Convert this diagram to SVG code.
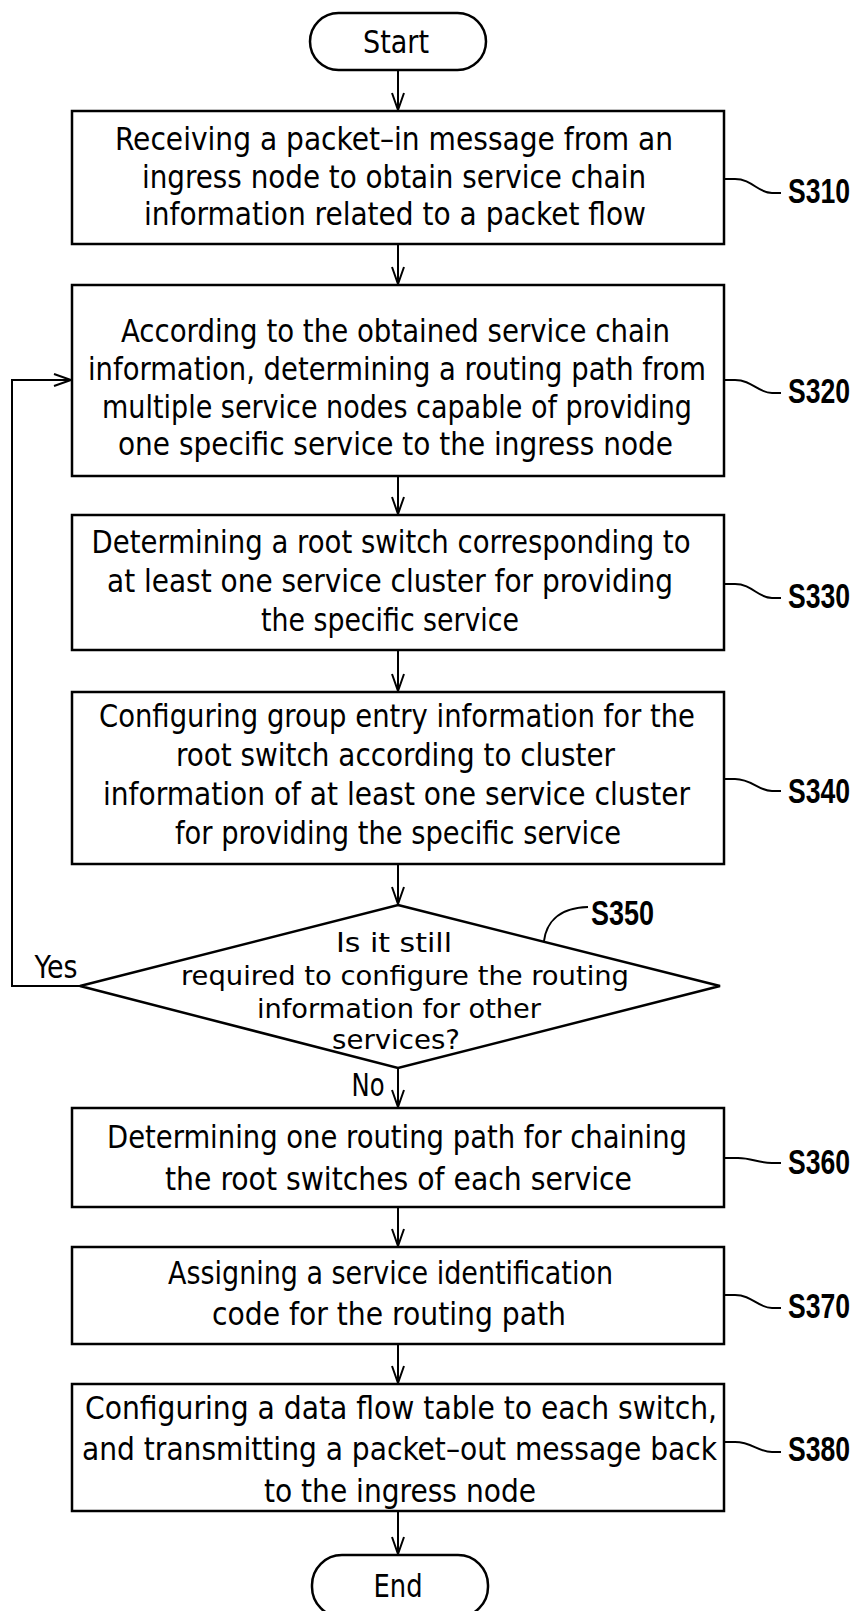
<svg xmlns="http://www.w3.org/2000/svg" width="857" height="1611" viewBox="0 0 857 1611">
<style>
.box{fill:#fff;stroke:#000;stroke-width:2.5}
.ln{fill:none;stroke:#000;stroke-width:2}
.t{font-family:"Liberation Sans Narrow","DejaVu Sans Condensed","Liberation Sans",sans-serif;font-size:32px;fill:#000;text-anchor:middle}
.d{font-size:27px}
.lb{font-family:"Liberation Sans",Arial,sans-serif;font-size:27px;font-weight:bold;fill:#000}
</style>
<defs>
<marker id="ah" markerUnits="userSpaceOnUse" markerWidth="20" markerHeight="20" refX="0" refY="0" orient="auto" overflow="visible">
<path d="M-17,-6 L0,0 L-17,6" fill="none" stroke="#000" stroke-width="2"/>
</marker>
</defs>
<rect width="857" height="1611" fill="#fff"/>
<g id="connectors">
<line class="ln" x1="398" y1="70" x2="398" y2="110" marker-end="url(#ah)"/>
<line class="ln" x1="398" y1="244" x2="398" y2="284" marker-end="url(#ah)"/>
<line class="ln" x1="398" y1="476" x2="398" y2="514" marker-end="url(#ah)"/>
<line class="ln" x1="398" y1="650" x2="398" y2="691" marker-end="url(#ah)"/>
<line class="ln" x1="398" y1="864" x2="398" y2="904" marker-end="url(#ah)"/>
<line class="ln" x1="398" y1="1068" x2="398" y2="1107" marker-end="url(#ah)"/>
<line class="ln" x1="398" y1="1207" x2="398" y2="1246" marker-end="url(#ah)"/>
<line class="ln" x1="398" y1="1344" x2="398" y2="1383" marker-end="url(#ah)"/>
<line class="ln" x1="398" y1="1511" x2="398" y2="1554" marker-end="url(#ah)"/>
<polyline class="ln" points="80,986 12,986 12,380 71,380" marker-end="url(#ah)"/>
<text class="t" x="56" y="978" textLength="43" lengthAdjust="spacingAndGlyphs">Yes</text>
<text class="t" x="368" y="1096" textLength="33" lengthAdjust="spacingAndGlyphs">No</text>
</g>
<g id="start">
<rect class="box" x="310" y="13" width="176" height="57" rx="28.5"/>
<text class="t" x="396" y="53" textLength="66" lengthAdjust="spacingAndGlyphs">Start</text>
</g>
<g id="s310">
<rect class="box" x="72" y="111" width="652" height="133"/>
<text class="t" x="394" y="150" textLength="558" lengthAdjust="spacingAndGlyphs">Receiving a packet–in message from an</text>
<text class="t" x="394" y="187.5" textLength="504" lengthAdjust="spacingAndGlyphs">ingress node to obtain service chain</text>
<text class="t" x="395" y="225" textLength="502" lengthAdjust="spacingAndGlyphs">information related to a packet flow</text>
<path class="ln" d="M724,179 H735 C752,179 758,193 772,193 H781"/>
<text class="lb" transform="translate(788,203) scale(1,1.3)" textLength="62" lengthAdjust="spacingAndGlyphs">S310</text>
</g>
<g id="s320">
<rect class="box" x="72" y="285" width="652" height="191"/>
<text class="t" x="395.5" y="342" textLength="549" lengthAdjust="spacingAndGlyphs">According to the obtained service chain</text>
<text class="t" x="397" y="380" textLength="618" lengthAdjust="spacingAndGlyphs">information, determining a routing path from</text>
<text class="t" x="397" y="418" textLength="590" lengthAdjust="spacingAndGlyphs">multiple service nodes capable of providing</text>
<text class="t" x="395.5" y="455" textLength="555" lengthAdjust="spacingAndGlyphs">one specific service to the ingress node</text>
<path class="ln" d="M724,380 H735 C752,380 758,393 772,393 H781"/>
<text class="lb" transform="translate(788,403) scale(1,1.3)" textLength="62" lengthAdjust="spacingAndGlyphs">S320</text>
</g>
<g id="s330">
<rect class="box" x="72" y="515" width="652" height="135"/>
<text class="t" x="391" y="553" textLength="599" lengthAdjust="spacingAndGlyphs">Determining a root switch corresponding to</text>
<text class="t" x="390" y="592" textLength="566" lengthAdjust="spacingAndGlyphs">at least one service cluster for providing</text>
<text class="t" x="390" y="631" textLength="258" lengthAdjust="spacingAndGlyphs">the specific service</text>
<path class="ln" d="M724,584 H735 C752,584 758,598 772,598 H781"/>
<text class="lb" transform="translate(788,608) scale(1,1.3)" textLength="62" lengthAdjust="spacingAndGlyphs">S330</text>
</g>
<g id="s340">
<rect class="box" x="72" y="692" width="652" height="172"/>
<text class="t" x="397" y="727" textLength="596" lengthAdjust="spacingAndGlyphs">Configuring group entry information for the</text>
<text class="t" x="395.5" y="766" textLength="439" lengthAdjust="spacingAndGlyphs">root switch according to cluster</text>
<text class="t" x="396.5" y="805" textLength="587" lengthAdjust="spacingAndGlyphs">information of at least one service cluster</text>
<text class="t" x="398" y="844" textLength="446" lengthAdjust="spacingAndGlyphs">for providing the specific service</text>
<path class="ln" d="M724,779 H735 C752,779 758,791 772,791 H781"/>
<text class="lb" transform="translate(788,803) scale(1,1.3)" textLength="62" lengthAdjust="spacingAndGlyphs">S340</text>
</g>
<g id="s350">
<polygon class="box" points="398,905 720,986 398,1068 80,986"/>
<text class="t d" x="394" y="952" textLength="116" lengthAdjust="spacingAndGlyphs">Is it still</text>
<text class="t d" x="405" y="985" textLength="448" lengthAdjust="spacingAndGlyphs">required to configure the routing</text>
<text class="t d" x="399" y="1018" textLength="284" lengthAdjust="spacingAndGlyphs">information for other</text>
<text class="t d" x="396" y="1049" textLength="128" lengthAdjust="spacingAndGlyphs">services?</text>
<path class="ln" d="M544,941 C546,925 556,908 588,907"/>
<text class="lb" transform="translate(591,925) scale(1,1.3)" textLength="63" lengthAdjust="spacingAndGlyphs">S350</text>
</g>
<g id="s360">
<rect class="box" x="72" y="1108" width="652" height="99"/>
<text class="t" x="397" y="1148" textLength="580" lengthAdjust="spacingAndGlyphs">Determining one routing path for chaining</text>
<text class="t" x="398.5" y="1190" textLength="467" lengthAdjust="spacingAndGlyphs">the root switches of each service</text>
<path class="ln" d="M724,1158 H738 C752,1158 758,1163 772,1163 H781"/>
<text class="lb" transform="translate(788,1174) scale(1,1.3)" textLength="62" lengthAdjust="spacingAndGlyphs">S360</text>
</g>
<g id="s370">
<rect class="box" x="72" y="1247" width="652" height="97"/>
<text class="t" x="390.5" y="1284" textLength="445" lengthAdjust="spacingAndGlyphs">Assigning a service identification</text>
<text class="t" x="389" y="1325" textLength="354" lengthAdjust="spacingAndGlyphs">code for the routing path</text>
<path class="ln" d="M724,1295 H735 C752,1295 758,1308 772,1308 H781"/>
<text class="lb" transform="translate(788,1318) scale(1,1.3)" textLength="62" lengthAdjust="spacingAndGlyphs">S370</text>
</g>
<g id="s380">
<rect class="box" x="72" y="1384" width="652" height="127"/>
<text class="t" x="401" y="1419" textLength="632" lengthAdjust="spacingAndGlyphs">Configuring a data flow table to each switch,</text>
<text class="t" x="399.5" y="1460" textLength="635" lengthAdjust="spacingAndGlyphs">and transmitting a packet–out message back</text>
<text class="t" x="400" y="1502" textLength="272" lengthAdjust="spacingAndGlyphs">to the ingress node</text>
<path class="ln" d="M724,1442 H735 C752,1442 758,1452 772,1452 H781"/>
<text class="lb" transform="translate(788,1461) scale(1,1.3)" textLength="62" lengthAdjust="spacingAndGlyphs">S380</text>
</g>
<g id="end">
<rect class="box" x="312" y="1555" width="176" height="62" rx="30"/>
<text class="t" x="398" y="1597" textLength="49" lengthAdjust="spacingAndGlyphs">End</text>
</g>
</svg>
